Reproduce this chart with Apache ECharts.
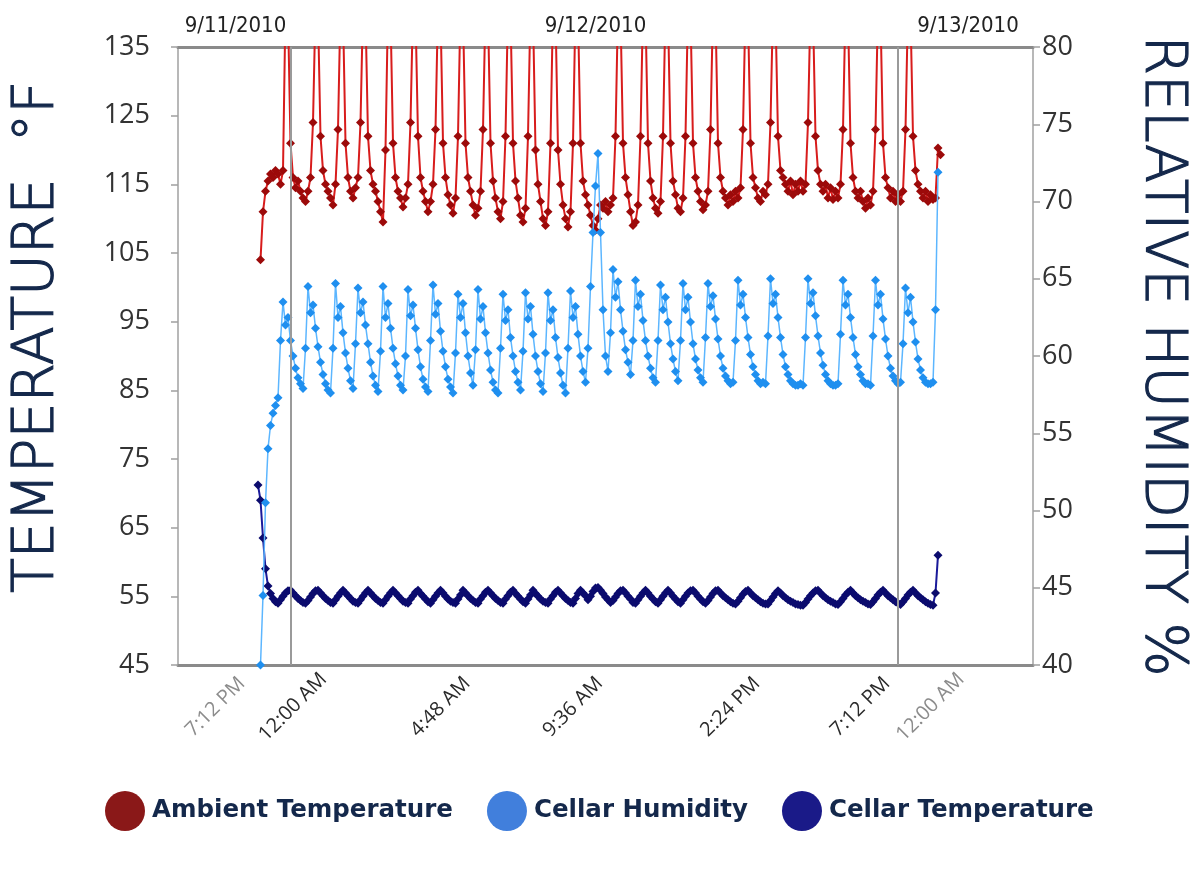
<!DOCTYPE html>
<html>
<head>
<meta charset="utf-8">
<title>Cellar temperature and humidity</title>
<script src="https://cdn.jsdelivr.net/npm/echarts/dist/echarts.min.js"></script>
<style>
  html, body { margin: 0; padding: 0; background: #fff; }
  #chart { width: 1200px; height: 875px; }
</style>
</head>
<body>
<div id="chart"></div>
<script>
// logger samples on a category axis, one slot per reading
var SAMPLE_COUNT = 343
var FIRST_SAMPLE = 32

// ambient temperature, deg F (left axis), from sample 32
var ambient = [
  null, 104, 111, 114, 115.5, 116.5, 116, 117, 116.5, 115,
  117, 141, 140, 121, 116, 114.5, 115.5, 114, 113, 112.5,
  114, 116, 124, 141, 140, 122, 117, 115, 114, 113,
  112, 115, 123, 141, 140, 121, 116, 114, 113, 114.5,
  116, 124, 141, 140, 122, 117, 115, 114, 112.5, 111,
  109.5, 120, 141, 140, 121, 116, 114, 113, 111.7, 113,
  115, 124, 141, 140, 122, 116, 114, 112.5, 111, 112.5,
  115, 123, 141, 140, 121, 116, 113.5, 112, 110.8, 113,
  122, 141, 140, 121, 116, 114, 112, 110.5, 111.5, 114,
  123, 141, 140, 121, 115.5, 113, 111, 110, 112.5, 122,
  141, 140, 121, 115.5, 113, 110.5, 109.5, 111.5, 122, 141,
  140, 120, 115, 112.5, 110, 109, 111, 121, 141, 140,
  120, 115, 112, 110, 108.8, 111, 121, 141, 140, 121,
  115.5, 113.5, 112, 110.5, 109, 108.3, 110, 112, 111.5, 112.5,
  111, 112, 113, 122, 141, 140, 121, 116, 113.5, 111,
  109, 109.5, 112, 122, 141, 140, 121, 115.5, 113, 111.5,
  110.8, 112.5, 122, 141, 140, 121, 115.5, 113.5, 111.5, 111,
  113, 122, 141, 140, 121, 116, 114, 112.5, 111.3, 112,
  114, 123, 141, 140, 121, 116, 114, 113, 112, 113.5,
  112.5, 114, 113, 114.5, 123, 141, 140, 121, 116, 114.5,
  113, 112.5, 114, 113.5, 115, 124, 141, 140, 122, 117,
  116, 115, 114, 115.5, 113.5, 115, 114, 115.5, 114, 115,
  124, 141, 140, 122, 117, 115, 114, 115, 113, 114.5,
  112.8, 114, 113, 115, 123, 141, 140, 121, 116, 114,
  113, 114, 112.5, 111.5, 113, 112, 114, 123, 141, 140,
  121, 116, 114.5, 113, 114, 112.5, 113.5, 112.5, 114, 123,
  141, 140, 122, 117, 115, 114, 113, 114, 112.5, 113.5,
  112.8, 113, 120.3, 119.3
]

// cellar relative humidity, % (right axis), from sample 32
var humidity = [
  null, 40, 44.5, 50.5, 54, 55.5, 56.3, 56.8, 57.3, 61,
  63.5, 62, 62.5, 61, 60, 59.2, 58.6, 58.2, 57.9, 60.5,
  64.5, 62.8, 63.3, 61.8, 60.6, 59.6, 58.8, 58.2, 57.8, 57.6,
  60.5, 64.7, 62.5, 63.2, 61.5, 60.2, 59.2, 58.4, 57.9, 60.8,
  64.4, 62.8, 63.5, 62, 60.8, 59.6, 58.7, 58.1, 57.7, 60.3,
  64.5, 62.5, 63.4, 61.8, 60.5, 59.5, 58.7, 58.1, 57.8, 60,
  64.3, 62.6, 63.3, 61.8, 60.4, 59.3, 58.5, 58, 57.7, 61,
  64.6, 62.7, 63.4, 61.6, 60.3, 59.3, 58.5, 58, 57.6, 60.2,
  64, 62.5, 63.4, 61.5, 60, 58.9, 58.1, 60.4, 64.3, 62.4,
  63.2, 61.5, 60.2, 59.1, 58.3, 57.8, 57.6, 60.5, 64, 62.3,
  63, 61.2, 60, 59, 58.3, 57.8, 60.3, 64.1, 62.4, 63.2,
  61.4, 60, 59, 58.2, 57.7, 60.2, 64.1, 62.3, 63, 61.2,
  59.9, 58.9, 58.1, 57.6, 60.5, 64.2, 62.5, 63.2, 61.4, 60,
  59, 58.3, 60.5, 64.5, 68, 71, 73.1, 68, 63, 60,
  59, 61.5, 65.6, 63.8, 64.8, 63, 61.6, 60.4, 59.6, 58.8,
  61, 64.9, 63.2, 64, 62.3, 61, 60, 59.2, 58.6, 58.3,
  61, 64.6, 63, 63.8, 62.2, 60.8, 59.8, 59, 58.4, 61,
  64.7, 63, 63.8, 62.2, 60.8, 59.8, 59.1, 58.6, 58.3, 61.2,
  64.7, 63.2, 63.9, 62.4, 61.1, 60, 59.2, 58.7, 58.4, 58.2,
  58.3, 61, 64.9, 63.3, 64, 62.5, 61.2, 60.1, 59.3, 58.8,
  58.4, 58.2, 58.3, 58.2, 61.3, 65, 63.4, 64, 62.5, 61.2,
  60.1, 59.3, 58.8, 58.4, 58.2, 58.1, 58.1, 58.2, 58.1, 61.2,
  65, 63.4, 64.1, 62.6, 61.3, 60.2, 59.4, 58.8, 58.4, 58.2,
  58.1, 58.1, 58.2, 61.4, 64.9, 63.3, 64, 62.5, 61.2, 60.1,
  59.3, 58.8, 58.4, 58.2, 58.2, 58.1, 61.3, 64.9, 63.3, 64,
  62.4, 61.1, 60, 59.2, 58.7, 58.4, 58.2, 58.3, 60.8, 64.4,
  62.8, 63.8, 62.2, 60.9, 59.8, 59.1, 58.6, 58.3, 58.2, 58.2,
  58.3, 63, 71.9
]

// cellar temperature, deg F (left axis), from sample 32
var cellar = [
  71.2, 69, 63.5, 59, 56.5, 55.4, 54.7, 54.2, 54, 54.5,
  55, 55.5, 55.8, 55.9, 55.5, 55.1, 54.7, 54.4, 54.1, 54,
  54.4, 54.9, 55.4, 55.8, 55.9, 55.5, 55.1, 54.7, 54.4, 54.1,
  54, 54.5, 55, 55.5, 55.9, 55.5, 55.1, 54.7, 54.3, 54.1,
  54, 54.5, 55, 55.5, 55.9, 55.5, 55.1, 54.7, 54.4, 54.1,
  54, 54.5, 55, 55.5, 55.9, 55.5, 55.1, 54.7, 54.3, 54.1,
  54, 54.6, 55.1, 55.6, 55.9, 55.4, 55, 54.6, 54.2, 54,
  54.5, 55, 55.5, 55.9, 55.5, 55, 54.6, 54.3, 54.1, 54,
  54.6, 55.2, 55.9, 55.5, 55.1, 54.7, 54.4, 54.1, 54, 54.6,
  55.1, 55.6, 55.9, 55.5, 55.1, 54.7, 54.4, 54.1, 54, 54.6,
  55.1, 55.6, 55.9, 55.4, 55, 54.6, 54.2, 54, 54.6, 55.2,
  55.9, 55.4, 55, 54.6, 54.3, 54.1, 54, 54.6, 55.1, 55.6,
  55.9, 55.5, 55.1, 54.7, 54.4, 54.1, 54, 54.7, 55.4, 55.9,
  55.5, 55.1, 54.5, 55, 55.7, 56.2, 56.3, 55.9, 55.4, 54.9,
  54.5, 54.1, 54.4, 54.9, 55.4, 55.8, 55.9, 55.5, 55, 54.6,
  54.1, 54, 54.5, 55, 55.5, 55.9, 55.5, 55, 54.6, 54.2,
  54, 54.5, 55, 55.5, 55.9, 55.5, 55, 54.6, 54.2, 54,
  54.5, 55, 55.5, 55.8, 55.9, 55.5, 55, 54.6, 54.2, 54,
  54.4, 54.9, 55.4, 55.8, 55.9, 55.5, 55.1, 54.8, 54.5, 54.2,
  54, 53.9, 54.3, 54.8, 55.3, 55.7, 55.9, 55.5, 55.1, 54.8,
  54.5, 54.2, 54, 53.9, 53.9, 54.4, 54.9, 55.4, 55.8, 55.5,
  55.1, 54.8, 54.5, 54.3, 54.1, 53.9, 53.8, 53.7, 53.7, 54.1,
  54.6, 55.1, 55.5, 55.8, 55.9, 55.5, 55.1, 54.8, 54.5, 54.3,
  54.1, 53.9, 53.8, 54.2, 54.7, 55.2, 55.6, 55.9, 55.5, 55.1,
  54.8, 54.5, 54.3, 54.1, 53.9, 53.8, 54.2, 54.7, 55.2, 55.6,
  55.9, 55.5, 55.1, 54.8, 54.5, 54.2, 54, 53.8, 54.2, 54.7,
  55.2, 55.6, 55.9, 55.5, 55.1, 54.8, 54.5, 54.2, 54, 53.8,
  53.7, 55.5, 61
]

// bottom time labels (sample slot, text, greyed)
var timeTickIndex = [15, 46, 105, 158, 221, 273, 301]
var timeTickText = ['7:12 PM', '12:00 AM', '4:48 AM', '9:36 AM', '2:24 PM', '7:12 PM', '12:00 AM']
var timeTickMuted = [true, false, false, false, false, false, true]

// top date labels
var dateTickIndex = [23, 167, 316]
var dateTickText = ['9/11/2010', '9/12/2010', '9/13/2010']

// grey day-boundary lines
var dayLineIndex = [45, 288]

var NAVY = '#14284b'

function padSeries(values) {
  var out = []
  for (var i = 0; i < SAMPLE_COUNT; i++) {
    var k = i - FIRST_SAMPLE
    out.push(k >= 0 && k < values.length ? values[k] : null)
  }
  return out
}

var slots = []
for (var i = 0; i < SAMPLE_COUNT; i++) slots.push(String(i))

var titleStyle = {
  fontFamily: 'DejaVu Sans',
  fontWeight: 200,
  fontSize: 57,
  color: NAVY,
  textBorderColor: NAVY,
  textBorderWidth: 1.2
}

var chart = echarts.init(document.getElementById('chart'))

var option = {
  animation: false,
  backgroundColor: '#fff',
  grid: { left: 178, right: 167, top: 47, bottom: 210, outerBoundsMode: 'none' },
  legend: {
    left: 100,
    top: 786,
    icon: 'circle',
    itemWidth: 40,
    itemHeight: 40,
    itemGap: 34,
    selectedMode: false,
    textStyle: { fontFamily: 'DejaVu Sans', fontWeight: 'bold', fontSize: 24.5, color: NAVY, padding: [0, 0, 0, 2] },
    data: [
      { name: 'Ambient Temperature', itemStyle: { color: '#8a1818' } },
      { name: 'Cellar Humidity', itemStyle: { color: '#417fdc' } },
      { name: 'Cellar Temperature', itemStyle: { color: '#1a1a88' } }
    ]
  },
  xAxis: [
    {
      type: 'category',
      position: 'bottom',
      data: slots,
      boundaryGap: false,
      axisLine: { lineStyle: { color: '#8a8a8a', width: 3 } },
      axisTick: { show: false },
      splitLine: { show: false },
      axisLabel: {
        rotate: 45,
        align: 'center',
        verticalAlign: 'middle',
        margin: 42,
        fontFamily: 'Open Sans',
        fontSize: 20,
        interval: function (idx) { return timeTickIndex.indexOf(idx) >= 0 },
        formatter: function (v, idx) {
          var k = timeTickIndex.indexOf(idx)
          return k >= 0 ? timeTickText[k] : ''
        },
        color: function (v, idx) {
          var k = timeTickIndex.indexOf(Number(v))
          return k >= 0 && timeTickMuted[k] ? '#8c8c8c' : '#2b2b2b'
        }
      }
    },
    {
      type: 'category',
      position: 'top',
      data: slots,
      boundaryGap: false,
      axisLine: { lineStyle: { color: '#8a8a8a', width: 3 } },
      axisTick: { show: false },
      splitLine: { show: false },
      axisLabel: {
        margin: 10,
        fontFamily: 'Liberation Sans Narrow, DejaVu Sans Condensed, sans-serif',
        fontSize: 22,
        color: '#222',
        interval: function (idx) { return dateTickIndex.indexOf(idx) >= 0 },
        formatter: function (v, idx) {
          var k = dateTickIndex.indexOf(idx)
          return k >= 0 ? dateTickText[k] : ''
        }
      }
    }
  ],
  yAxis: [
    {
      type: 'value',
      position: 'left',
      min: 45,
      max: 135,
      interval: 10,
      name: 'TEMPERATURE  °F',
      nameLocation: 'middle',
      nameRotate: 90,
      nameGap: 111,
      nameTextStyle: Object.assign({ padding: [0, 0, 0, 38] }, titleStyle),
      axisLine: { show: true, lineStyle: { color: '#a0a0a0', width: 1.5 } },
      axisTick: { show: true, length: 7, lineStyle: { color: '#a0a0a0', width: 1.5 } },
      axisLabel: { margin: 28, fontFamily: 'Open Sans', fontSize: 27, color: '#333' },
      splitLine: { show: false }
    },
    {
      type: 'value',
      position: 'right',
      min: 40,
      max: 80,
      interval: 5,
      name: 'RELATIVE HUMIDITY %',
      nameLocation: 'middle',
      nameRotate: -90,
      nameGap: 99,
      nameTextStyle: titleStyle,
      axisLine: { show: true, lineStyle: { color: '#a0a0a0', width: 1.5 } },
      axisTick: { show: true, length: 7, lineStyle: { color: '#a0a0a0', width: 1.5 } },
      axisLabel: { margin: 9, fontFamily: 'Open Sans', fontSize: 27, color: '#333' },
      splitLine: { show: false }
    }
  ],
  series: [
    {
      name: 'Ambient Temperature',
      type: 'line',
      yAxisIndex: 0,
      z: 2,
      data: padSeries(ambient),
      symbol: 'diamond',
      symbolSize: 9,
      showAllSymbol: true,
      connectNulls: false,
      lineStyle: { color: '#d81c1c', width: 2 },
      itemStyle: { color: '#9c0a0a' },
      markLine: {
        silent: true,
        symbol: 'none',
        label: { show: false },
        lineStyle: { color: '#9a9a9a', width: 2, type: 'solid' },
        data: dayLineIndex.map(function (ix) { return { xAxis: ix } })
      }
    },
    {
      name: 'Cellar Humidity',
      type: 'line',
      yAxisIndex: 1,
      z: 4,
      data: padSeries(humidity),
      symbol: 'diamond',
      symbolSize: 9,
      showAllSymbol: true,
      lineStyle: { color: '#5cb6ff', width: 1.5 },
      itemStyle: { color: '#1f8fef' }
    },
    {
      name: 'Cellar Temperature',
      type: 'line',
      yAxisIndex: 0,
      z: 3,
      data: padSeries(cellar),
      symbol: 'diamond',
      symbolSize: 9,
      showAllSymbol: true,
      lineStyle: { color: '#1a1a9a', width: 2 },
      itemStyle: { color: '#0b0b6e' }
    }
  ]
}

chart.setOption(option)
</script>
</body>
</html>
